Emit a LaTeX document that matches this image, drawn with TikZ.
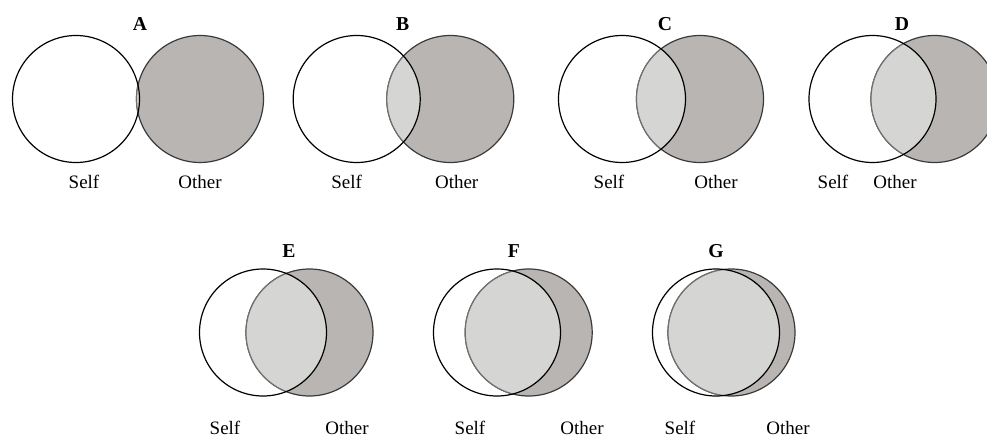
\documentclass[tikz,border=0pt]{standalone}
\usepackage{fontspec}
\setmainfont{Liberation Serif}
\definecolor{othergray}{HTML}{B9B5B2}
\definecolor{overlapgray}{HTML}{D5D5D3}
\definecolor{otherline}{HTML}{3A3A3A}
\definecolor{innerline}{HTML}{707070}
\begin{document}
\begin{tikzpicture}[x=0.025cm,y=0.025cm,line width=0.85pt,
    panelletter/.style={anchor=base,inner sep=0pt,font=\fontsize{14}{16}\selectfont\bfseries},
    circlelabel/.style={anchor=base,inner sep=0pt,font=\fontsize{13.5}{16}\selectfont}]

  \useasboundingbox (0,0) rectangle (987,436);

  % panels: letter / self x / other x / letter x / self label x / other label x / circle y / letter y / label y
  \foreach \name/\sx/\ox/\lx/\slx/\olx/\cy/\ty/\by in {
      A/76/200/140/84/200/337/405/248,
      B/356.7/450.3/402.7/346.7/456.7/337/405/248,
      C/622/700/665/609/716/337/405/248,
      D/872.5/934.5/902/833/895/337/405/248,
      E/263/309.5/289/225/347/103.5/179/2,
      F/497/528.7/514/470/582/103.5/179/2,
      G/716/731.5/716/680/788/103.5/179/2}
  {
    \coordinate (\name-self) at (\sx,\cy);
    \coordinate (\name-other) at (\ox,\cy);

    \fill[othergray] (\name-other) circle (63.5);
    \draw[otherline] (\name-other) circle (63.5);
    \begin{scope}
      \clip (\name-self) circle (63.5);
      \draw[innerline,fill=overlapgray] (\name-other) circle (63.5);
    \end{scope}
    \draw[black] (\name-self) circle (63.5);

    \node[panelletter] (\name-tag) at (\lx,\ty) {\name};
    \node[circlelabel] (\name-selftext) at (\slx,\by) {Self};
    \node[circlelabel] (\name-othertext) at (\olx,\by) {Other};
  }

\end{tikzpicture}
\end{document}
